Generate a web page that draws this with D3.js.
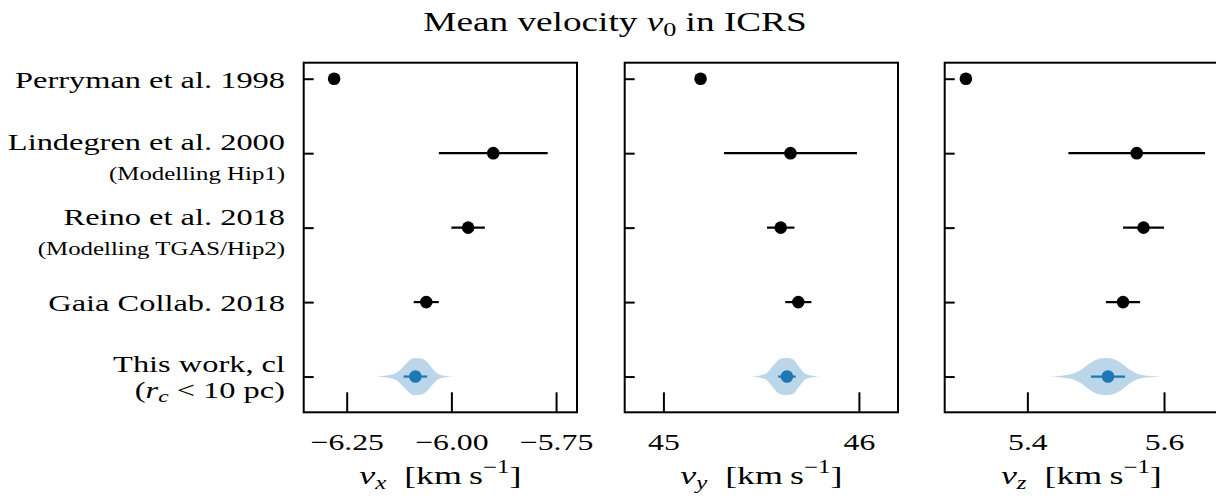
<!DOCTYPE html>
<html><head><meta charset="utf-8">
<script src="https://cdn.jsdelivr.net/npm/d3@7"></script>
<style>
html,body{margin:0;padding:0;background:#fff;}
svg text{font-family:"Liberation Serif","DejaVu Serif",serif !important;fill:#000;}
</style></head>
<body><svg id="c" width="1216" height="501"></svg>
<script>
// ---------- data ----------
const studies = ["Perryman et al. 1998", "Lindegren et al. 2000", "Reino et al. 2018", "Gaia Collab. 2018"];
const studySub = ["", "(Modelling Hip1)", "(Modelling TGAS/Hip2)", ""];
const studyRow = [4, 3, 2, 1];
const vxMean = [-6.28, -5.90, -5.96, -6.06];
const vxErr  = [0, 0.13, 0.04, 0.03];
const vyMean = [45.19, 45.65, 45.60, 45.69];
const vyErr  = [0, 0.34, 0.07, 0.067];
const vzMean = [5.31, 5.56, 5.57, 5.54];
const vzErr  = [0, 0.10, 0.03, 0.025];
const thisWorkRow = 0;
const thisWorkMean = [-6.086, 45.632, 5.518];
const thisWorkErr  = [0.028, 0.045, 0.025];
// violin profiles: [value, relative density]
const violinVx = [[-6.182,0],[-6.16,0.04],[-6.14,0.12],[-6.125,0.3],[-6.112,0.6],[-6.100,0.88],[-6.088,1.0],[-6.072,0.97],[-6.058,0.78],[-6.046,0.45],[-6.034,0.18],[-6.018,0.05],[-5.986,0]];
const violinVy = [[45.444,0],[45.495,0.06],[45.531,0.22],[45.562,0.6],[45.592,0.92],[45.628,1.0],[45.664,0.92],[45.695,0.52],[45.726,0.15],[45.761,0.05],[45.812,0]];
const violinVz = [[5.427,0],[5.45,0.05],[5.466,0.15],[5.478,0.35],[5.49,0.68],[5.502,0.92],[5.515,1.0],[5.528,0.92],[5.54,0.65],[5.552,0.32],[5.565,0.1],[5.585,0.02],[5.606,0]];
const xDomains = [[-6.3527, -5.70], [44.802, 46.2], [5.279, 5.679]];
const xTicks = [[-6.25, -6.00, -5.75], [45, 46], [5.4, 5.6]];
const xTickLabels = [["\u22126.25", "\u22126.00", "\u22125.75"], ["45", "46"], ["5.4", "5.6"]];
const axisSub = ["x", "y", "z"];
const titleText = "Mean velocity";

// ---------- layout ----------
const svg = d3.select("#c");
const SX = 1.38; // horizontal glyph stretch to mimic the reference typesetting
const panelLeft = [303.7, 624.7, 944.7];
const panelW = 273.3;
const plotTop = 62.7, plotBottom = 412.3;
const y = d3.scaleLinear().domain([-0.48, 4.215]).range([plotBottom, plotTop]);
const violinHalf = 0.25;
const c0 = "#1f77b4";
const means = [vxMean, vyMean, vzMean];
const errs = [vxErr, vyErr, vzErr];
const violins = [violinVx, violinVy, violinVz];

function addText(x, yy, anchor, size) {
  return svg.append("text").attr("transform", `translate(${x},${yy}) scale(${SX},1)`)
    .attr("text-anchor", anchor).attr("font-size", size);
}

// title
const t = addText(615, 31, "middle", 27);
t.append("tspan").text(titleText + " ");
t.append("tspan").attr("font-style", "italic").text("v");
t.append("tspan").attr("font-size", 19).attr("dy", 5).text("0");
t.append("tspan").attr("dy", -5).text(" in ICRS");

for (let p = 0; p < 3; p++) {
  const x = d3.scaleLinear().domain(xDomains[p]).range([panelLeft[p], panelLeft[p] + panelW]);
  const g = svg.append("g");
  // violin
  const area = d3.area()
    .x(d => x(d[0]))
    .y0(d => y(thisWorkRow - violinHalf * d[1]))
    .y1(d => y(thisWorkRow + violinHalf * d[1]))
    .curve(d3.curveMonotoneX);
  g.append("path").datum(violins[p]).attr("d", area).attr("fill", c0).attr("fill-opacity", 0.3);
  // this work error + point
  g.append("line").attr("x1", x(thisWorkMean[p] - thisWorkErr[p])).attr("x2", x(thisWorkMean[p] + thisWorkErr[p]))
    .attr("y1", y(thisWorkRow)).attr("y2", y(thisWorkRow)).attr("stroke", c0).attr("stroke-width", 2.2);
  g.append("circle").attr("cx", x(thisWorkMean[p])).attr("cy", y(thisWorkRow)).attr("r", 6.3).attr("fill", c0);
  // studies
  studies.forEach((s, i) => {
    if (errs[p][i] > 0) {
      g.append("line").attr("x1", x(means[p][i] - errs[p][i])).attr("x2", x(means[p][i] + errs[p][i]))
        .attr("y1", y(studyRow[i])).attr("y2", y(studyRow[i])).attr("stroke", "#000").attr("stroke-width", 2.2);
    }
    g.append("circle").attr("cx", x(means[p][i])).attr("cy", y(studyRow[i])).attr("r", 6.3).attr("fill", "#000");
  });
  // axes
  const xa = d3.axisBottom(x).tickValues(xTicks[p]).tickSizeInner(-20).tickSizeOuter(0).tickPadding(21)
    .tickFormat((d, i) => xTickLabels[p][i]);
  const gx = svg.append("g").attr("transform", `translate(0,${plotBottom})`).call(xa);
  gx.attr("font-family", null);
  gx.select(".domain").remove();
  gx.selectAll("line").attr("stroke", "#000").attr("stroke-width", 2);
  gx.selectAll("text").attr("font-size", 23).attr("transform", `scale(${SX},1)`);
  const ya = d3.axisLeft(y).tickValues([0, 1, 2, 3, 4]).tickSizeInner(-10).tickSizeOuter(0).tickFormat("");
  const gy = svg.append("g").attr("transform", `translate(${panelLeft[p]},0)`).call(ya);
  gy.select(".domain").remove();
  gy.selectAll("line").attr("stroke", "#000").attr("stroke-width", 2);
  // frame
  svg.append("rect").attr("x", panelLeft[p]).attr("y", plotTop).attr("width", panelW).attr("height", plotBottom - plotTop)
    .attr("fill", "none").attr("stroke", "#000").attr("stroke-width", 2);
  // axis label
  const lab = addText(panelLeft[p] + panelW / 2, 484, "middle", 26);
  lab.append("tspan").attr("font-style", "italic").text("v");
  lab.append("tspan").attr("font-style", "italic").attr("font-size", 18).attr("dy", 5).text(axisSub[p]);
  lab.append("tspan").attr("dy", -5).text("\u2002[km\u2009s");
  lab.append("tspan").attr("font-size", 18).attr("dy", -11).text("\u22121");
  lab.append("tspan").attr("dy", 11).text("]");
}

// row labels
const labelX = 285;
studies.forEach((s, i) => {
  const yy = y(studyRow[i]);
  if (studySub[i]) {
    addText(labelX, yy - 3, "end", 23.5).text(s);
    addText(labelX, yy + 27, "end", 18).text(studySub[i]);
  } else {
    addText(labelX, yy + 9, "end", 23.5).text(s);
  }
});
const ty = y(thisWorkRow);
addText(labelX, ty - 5, "end", 23.5).text("This work, cl");
const l2 = addText(labelX, ty + 21.5, "end", 23.5);
l2.append("tspan").text("(");
l2.append("tspan").attr("font-style", "italic").text("r");
l2.append("tspan").attr("font-style", "italic").attr("font-size", 17).attr("dy", 4).text("c");
l2.append("tspan").attr("dy", -4).text(" < 10 pc)");
</script></body></html>
